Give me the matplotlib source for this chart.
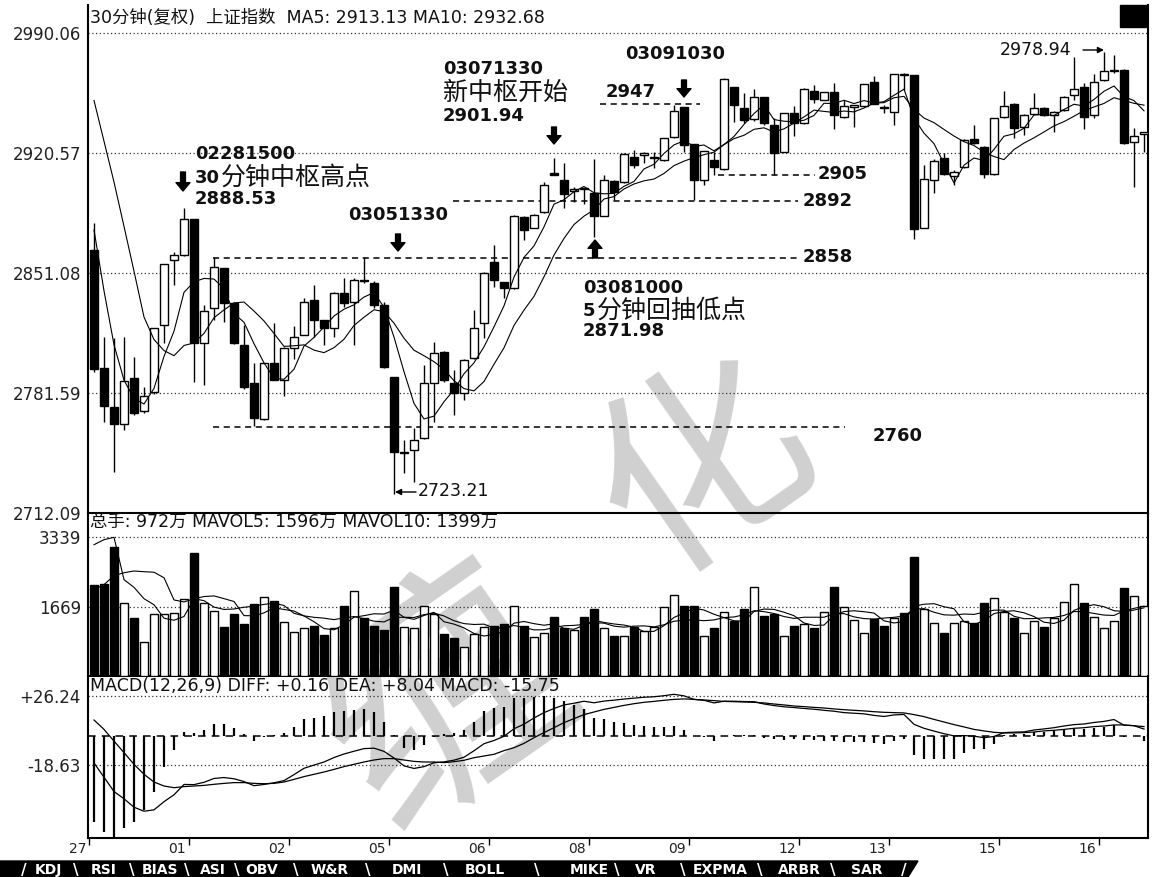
import numpy as np
import pandas as pd
import matplotlib
matplotlib.use("Agg")
import matplotlib.pyplot as plt
from matplotlib.patches import Rectangle, Polygon

plt.rcParams['font.family'] = ['DejaVu Sans', 'Noto Sans CJK SC']

# ---- 30 minute bars ----
opens = [2864.4, 2796.1, 2773.5, 2763.7, 2790.3, 2771.2, 2782.2, 2821.0, 2858.6, 2861.5,
         2882.4, 2810.5, 2830.8, 2853.9, 2833.7, 2809.4, 2787.4, 2766.5, 2798.9, 2789.1,
         2807.6, 2815.2, 2835.4, 2823.9, 2819.2, 2839.5, 2834.3, 2846.9, 2845.3, 2832.5,
         2790.9, 2746.6, 2748.6, 2755.5, 2787.4, 2805.3, 2787.4, 2781.6, 2801.9, 2822.1,
         2857.5, 2845.9, 2842.4, 2883.5, 2877.2, 2886.4, 2908.8, 2904.9, 2898.5, 2899.9,
         2897.4, 2884.0, 2904.3, 2903.8, 2918.2, 2919.5, 2917.6, 2916.5, 2929.9, 2947.2,
         2925.8, 2904.9, 2916.5, 2911.3, 2958.8, 2946.6, 2940.3, 2953.0, 2936.8, 2921.2,
         2943.7, 2937.9, 2956.5, 2951.3, 2955.9, 2941.4, 2947.5, 2947.8, 2961.7, 2946.7,
         2944.3, 2966.0, 2965.7, 2877.2, 2904.9, 2917.7, 2907.2, 2912.5, 2928.7, 2924.1,
         2908.4, 2941.4, 2948.9, 2935.6, 2943.2, 2946.6, 2942.6, 2945.5, 2954.2, 2958.8,
         2942.6, 2962.8, 2967.8, 2968.6, 2926.9, 2931.8]
highs = [2880.0, 2814.0, 2813.4, 2814.0, 2802.4, 2785.0, 2819.2, 2856.3, 2863.3, 2888.5,
         2882.4, 2832.5, 2860.4, 2854.0, 2834.3, 2821.0, 2798.9, 2798.9, 2822.0, 2808.0,
         2820.4, 2836.6, 2844.1, 2824.0, 2840.0, 2848.2, 2848.2, 2860.4, 2846.5, 2834.5,
         2791.0, 2754.4, 2761.4, 2797.8, 2811.1, 2806.0, 2794.9, 2801.0, 2829.6, 2851.5,
         2867.3, 2846.0, 2884.5, 2884.0, 2885.0, 2903.8, 2917.7, 2914.8, 2901.0, 2900.5,
         2917.1, 2907.8, 2905.0, 2920.3, 2922.3, 2921.2, 2921.0, 2929.5, 2948.4, 2947.5,
         2926.0, 2922.0, 2921.2, 2964.0, 2959.0, 2955.3, 2957.6, 2953.2, 2940.8, 2944.0,
         2947.8, 2958.0, 2960.0, 2956.2, 2961.1, 2951.3, 2948.0, 2960.8, 2965.2, 2948.4,
         2966.5, 2966.9, 2966.0, 2913.6, 2917.0, 2920.6, 2910.7, 2928.5, 2936.8, 2924.5,
         2941.0, 2956.5, 2949.3, 2943.0, 2955.3, 2947.0, 2945.0, 2953.5, 2976.0, 2961.1,
         2966.3, 2978.9, 2977.3, 2969.0, 2935.0, 2932.5]
lows = [2793.8, 2764.8, 2735.8, 2760.2, 2768.8, 2770.0, 2781.0, 2810.5, 2844.1, 2861.0,
        2788.0, 2786.2, 2823.9, 2822.7, 2810.0, 2784.0, 2762.5, 2766.0, 2789.0, 2779.9,
        2801.3, 2815.0, 2814.0, 2809.4, 2814.0, 2831.4, 2809.4, 2845.3, 2830.8, 2796.0,
        2723.2, 2735.2, 2730.0, 2755.0, 2764.8, 2788.0, 2768.8, 2777.6, 2801.0, 2813.4,
        2843.0, 2836.6, 2842.0, 2870.2, 2877.0, 2886.0, 2907.8, 2888.7, 2892.0, 2891.0,
        2872.0, 2884.0, 2893.3, 2903.0, 2911.9, 2914.8, 2912.0, 2916.0, 2929.5, 2921.2,
        2893.3, 2902.0, 2907.8, 2911.0, 2938.5, 2937.9, 2939.0, 2936.8, 2907.8, 2921.0,
        2930.4, 2937.5, 2949.5, 2951.0, 2934.5, 2941.0, 2935.6, 2947.5, 2948.8, 2943.7,
        2936.8, 2957.0, 2870.8, 2877.0, 2897.4, 2908.0, 2902.0, 2912.0, 2926.0, 2906.0,
        2908.0, 2941.0, 2929.3, 2931.0, 2943.0, 2942.0, 2932.8, 2945.0, 2951.3, 2934.5,
        2940.8, 2962.0, 2967.0, 2926.0, 2900.9, 2921.0]
closes = [2795.5, 2774.0, 2763.7, 2788.5, 2770.0, 2779.9, 2819.2, 2856.3, 2861.5, 2882.4,
          2810.5, 2829.0, 2854.5, 2833.7, 2810.5, 2785.0, 2767.1, 2798.9, 2789.1, 2807.6,
          2814.0, 2834.3, 2823.9, 2819.2, 2839.5, 2833.7, 2847.0, 2846.3, 2832.5, 2796.6,
          2747.4, 2747.0, 2754.4, 2787.4, 2804.8, 2789.1, 2781.6, 2800.7, 2819.2, 2851.1,
          2847.0, 2842.4, 2884.0, 2876.0, 2884.6, 2902.1, 2908.0, 2896.8, 2899.5, 2899.5,
          2884.0, 2904.9, 2898.0, 2920.0, 2913.6, 2920.3, 2918.4, 2929.3, 2944.9, 2925.2,
          2904.9, 2921.7, 2912.5, 2963.4, 2948.4, 2939.7, 2953.0, 2938.0, 2920.6, 2943.7,
          2937.9, 2957.6, 2951.9, 2955.9, 2942.6, 2947.8, 2947.9, 2960.5, 2949.0, 2946.4,
          2966.3, 2965.6, 2876.6, 2905.5, 2916.0, 2908.4, 2909.6, 2928.1, 2926.4, 2908.4,
          2940.8, 2947.8, 2935.1, 2942.6, 2946.6, 2942.6, 2944.3, 2953.0, 2957.6, 2941.4,
          2961.7, 2968.0, 2968.3, 2926.4, 2930.3, 2932.1]
# closes before the first visible bar (estimated from where the MA lines start)
pre_close = [3010, 3000, 3045, 3030, 3045, 2950, 2920, 2891, 2823.5]

volumes = [2193, 2210, 3094, 1760, 1392, 827, 1481, 1481, 1514, 1842,
           2947, 1760, 1555, 1187, 1498, 1252, 1736, 1908, 1801, 1294,
           1064, 1146, 1211, 982, 1146, 1678, 2047, 1392, 1211, 1113,
           2145, 1187, 1146, 1678, 1498, 1007, 901, 696, 1007, 1187,
           1211, 1252, 1687, 1211, 925, 1023, 1417, 1146, 1100, 1417,
           1621, 1146, 966, 966, 1171, 1089, 1171, 1654, 1948, 1687,
           1670, 966, 1146, 1539, 1310, 1621, 2129, 1441, 1498, 966,
           1211, 1252, 1146, 1539, 2137, 1662, 1351, 1031, 1375, 1211,
           1400, 1523, 2866, 1621, 1277, 1031, 1277, 1310, 1277, 1760,
           1867, 1539, 1392, 1031, 1310, 1187, 1392, 1785, 2210, 1760,
           1417, 1146, 1310, 2112, 1932, 1687]
pre_vol = [1000, 950, 1050, 980, 990, 1610, 2804, 6850, 2313]

diff = [-17.5, -26.8, -36.1, -40.8, -46.3, -48.9, -48.0, -42.7, -38.2, -31.5,
        -31.6, -30.1, -27.6, -27.0, -27.8, -29.6, -32.3, -31.5, -30.4, -29.0,
        -25.1, -21.0, -18.9, -16.9, -14.0, -11.7, -9.9, -8.2, -7.9, -10.0,
        -14.3, -19.4, -21.1, -19.9, -17.4, -16.8, -15.7, -13.8, -9.6, -5.0,
        -2.9, -0.2, 4.7, 7.7, 11.7, 15.2, 17.9, 20.2, 21.3, 22.6,
        21.6, 22.7, 23.3, 24.0, 24.6, 25.2, 25.5, 26.2, 27.1, 26.1,
        23.8, 23.2, 21.5, 22.6, 22.6, 22.4, 22.3, 20.8, 19.8, 19.0,
        18.5, 17.9, 17.4, 16.7, 16.1, 15.2, 14.8, 14.4, 13.4, 12.7,
        13.7, 14.0, 7.6, 5.0, 3.2, 1.5, 0.1, 0.3, -0.1, -1.1,
        -0.3, 2.2, 2.5, 2.7, 3.9, 4.6, 5.4, 6.5, 7.4, 7.8,
        8.8, 9.5, 10.7, 7.0, 6.7, 4.5]
dea = [10.4, 4.3, -3.3, -10.8, -18.4, -24.9, -29.9, -32.5, -33.6, -32.9,
       -32.5, -32.1, -31.4, -30.8, -30.3, -30.3, -30.8, -31.0, -30.8, -29.9,
       -28.2, -26.4, -24.9, -23.4, -21.7, -19.9, -18.4, -16.9, -15.6, -14.7,
       -14.7, -15.6, -16.5, -16.9, -16.9, -17.3, -16.7, -15.8, -14.1, -13.0,
       -11.9, -9.5, -7.6, -4.8, -1.1, 2.2, 5.4, 8.7, 11.3, 13.9,
       15.6, 17.3, 18.6, 19.9, 21.0, 21.9, 22.5, 23.2, 23.8, 24.1,
       23.8, 23.4, 23.0, 22.5, 22.3, 22.1, 21.9, 21.5, 20.8, 20.2,
       19.5, 19.1, 18.6, 18.2, 17.6, 17.1, 16.7, 16.3, 15.8, 15.4,
       15.2, 15.0, 13.9, 12.6, 10.8, 9.1, 7.4, 5.9, 4.3, 3.3,
       2.4, 2.0, 2.0, 2.2, 2.6, 3.3, 3.7, 4.3, 5.0, 5.4,
       6.1, 6.5, 7.2, 7.2, 6.7, 6.1]
macd = [-55.7, -62.2, -65.5, -60.0, -55.7, -48.1, -36.2, -20.4, -9.1, 2.8,
        1.7, 3.9, 7.6, 7.6, 5.0, 1.3, -3.0, -0.9, 0.7, 1.7,
        6.1, 10.8, 11.9, 13.0, 15.4, 16.3, 16.9, 17.3, 15.4, 9.3,
        0.7, -7.6, -9.1, -5.9, -0.9, 1.0, 2.0, 4.0, 9.0, 16.0,
        18.0, 18.6, 24.5, 25.0, 25.6, 26.0, 25.0, 23.0, 20.0, 17.3,
        12.0, 10.8, 9.3, 8.2, 7.2, 6.5, 6.0, 6.0, 6.5, 4.0,
        0.2, -0.5, -3.0, 0.2, 0.5, 0.5, 0.8, -1.5, -2.0, -2.5,
        -2.0, -2.5, -2.5, -3.0, -3.0, -3.9, -3.9, -3.9, -4.8, -5.4,
        -3.0, -2.0, -12.6, -15.2, -15.2, -15.2, -14.7, -11.3, -8.7, -8.7,
        -5.4, 0.4, 1.0, 1.0, 2.6, 2.6, 3.3, 4.3, 4.8, 4.8,
        5.4, 6.0, 6.9, -0.4, 0.2, -3.3]

day_labels = ['27', '01', '02', '05', '06', '08', '09', '12', '13', '15', '16']
day_start = [0, 10, 20, 30, 40, 50, 60, 71, 80, 91, 101]
price_ticks = [2990.06, 2920.57, 2851.08, 2781.59, 2712.09]
vol_ticks = [3339, 1669]
macd_ticks = [26.24, -18.63]

# ---- figure in pixel layout ----
W, H = 1156, 877
fig = plt.figure(figsize=(W / 100, H / 100), dpi=100)
fig.patch.set_facecolor('white')


def box(l, t, r, b):
    return [l / W, 1 - b / H, (r - l) / W, (b - t) / H]


def ftext(x, y, s, **kw):
    kw.setdefault('va', 'center')
    kw.setdefault('color', '#111111')
    fig.text(x / W, 1 - y / H, s, **kw)


ax1 = fig.add_axes(box(88, 5, 1148, 513))
ax2 = fig.add_axes(box(88, 513, 1148, 676))
ax3 = fig.add_axes(box(88, 676, 1148, 838))

for ax in (ax1, ax2, ax3):
    ax.set_facecolor('none')
    ax.set_xlim(-0.6, 105.4)
    ax.spines['top'].set_visible(False)
    for s in ('left', 'right', 'bottom'):
        ax.spines[s].set_linewidth(1.5)
    ax.tick_params(axis='y', length=0, pad=5, labelsize=12, labelcolor='#222222')
    ax.tick_params(axis='x', bottom=False, labelbottom=False)

dot = (0, (1, 2))

# price panel
o = np.array(opens)
h = np.array(highs)
l = np.array(lows)
c = np.array(closes)
x = np.arange(len(c))
down = c < o
fill = np.where(down, 'black', 'white')

ax1.set_ylim(2712.09, 3006.3)
ax1.set_yticks(price_ticks)
ax1.set_yticklabels(['%.2f' % v for v in price_ticks])
for v in price_ticks[:-1]:
    ax1.axhline(v, color='#333333', lw=0.9, linestyle=dot, zorder=1)

ax1.vlines(x, l, h, color='black', lw=1, zorder=2)
ax1.bar(x, np.maximum(np.abs(c - o), 0.7), bottom=np.minimum(o, c), width=0.75,
        color=fill, edgecolor='black', linewidth=1, zorder=3)

cl = pd.Series(pre_close + closes)
n0 = len(pre_close)
ma5 = cl.rolling(5).mean().to_numpy()[n0:]
ma10 = cl.rolling(10).mean().to_numpy()[n0:]
ax1.plot(x, ma5, color='black', lw=0.8, zorder=4)
ax1.plot(x, ma10, color='black', lw=0.8, zorder=4)

# dashed reference levels
dash = (0, (4, 3))
ax1.hlines(2859.8, 11.9, 70.4, color='black', lw=1.1, linestyle=dash)
ax1.hlines(2892.8, 35.9, 70.4, color='black', lw=1.1, linestyle=dash)
ax1.hlines(2908.0, 62.4, 72.1, color='black', lw=1.1, linestyle=dash)
ax1.hlines(2762.0, 11.9, 75.1, color='black', lw=1.1, linestyle=dash)
ax1.hlines(2948.9, 50.6, 60.6, color='black', lw=1.1, linestyle=dash)

bold = dict(fontsize=13, fontweight='bold', family='DejaVu Sans')
cjk = dict(fontsize=18, family=['Noto Sans CJK SC'])
ftext(803, 257, '2858', **bold)
ftext(803, 201, '2892', **bold)
ftext(818, 174, '2905', **bold)
ftext(873, 436, '2760', **bold)

ftext(195, 154, '02281500', **bold)
ftext(195, 178, '30', **bold)
ftext(221, 178, '分钟中枢高点', **cjk)
ftext(195, 199, '2888.53', **bold)

ftext(348, 215, '03051330', **bold)

ftext(443, 69, '03071330', **bold)
ftext(443, 93, '新中枢开始', **cjk)
ftext(443, 116, '2901.94', **bold)

ftext(625, 54, '03091030', **bold)
ftext(606, 92, '2947', **bold)

ftext(583, 288, '03081000', **bold)
ftext(583, 311, '5', **bold)
ftext(597, 311, '分钟回抽低点', **cjk)
ftext(583, 331, '2871.98', **bold)

ftext(418, 491, '2723.21', fontsize=12.5)
ftext(1000, 50, '2978.94', fontsize=12.5)


def block_arrow(px, y_tail, y_tip):
    ax1.annotate('', xy=(px, H - y_tip), xycoords='figure pixels',
                 xytext=(px, H - y_tail), textcoords='figure pixels',
                 arrowprops=dict(facecolor='black', edgecolor='black', width=3.5,
                                 headwidth=10, headlength=6, shrink=0),
                 annotation_clip=False)


block_arrow(183, 172, 191)
block_arrow(398, 234, 251)
block_arrow(554, 127, 144)
block_arrow(684, 80, 97)
block_arrow(595, 258, 240)

thin = dict(arrowstyle='-|>', color='black', lw=1, mutation_scale=9, shrinkA=0, shrinkB=0)
ax1.annotate('', xy=(395, H - 492), xycoords='figure pixels', xytext=(416, H - 492),
             textcoords='figure pixels', arrowprops=thin, annotation_clip=False)
ax1.annotate('', xy=(1104, H - 50), xycoords='figure pixels', xytext=(1083, H - 50),
             textcoords='figure pixels', arrowprops=thin, annotation_clip=False)

# volume panel
ax2.set_ylim(0, 3915)
ax2.set_yticks(vol_ticks)
ax2.set_yticklabels([str(v) for v in vol_ticks])
for v in vol_ticks:
    ax2.axhline(v, color='#333333', lw=0.9, linestyle=dot, zorder=1)
ax2.bar(x, volumes, width=0.75, color=fill, edgecolor='black', linewidth=1, zorder=3)
vs = pd.Series(pre_vol + volumes)
m0 = len(pre_vol)
ax2.plot(x, vs.rolling(5).mean().to_numpy()[m0:], color='black', lw=0.8, zorder=4)
ax2.plot(x, vs.rolling(10).mean().to_numpy()[m0:], color='black', lw=0.8, zorder=4)

# macd panel
ax3.set_ylim(-66.3, 39.0)
ax3.set_yticks(macd_ticks)
ax3.set_yticklabels(['%+.2f' % v for v in macd_ticks])
for v in macd_ticks:
    ax3.axhline(v, color='#333333', lw=0.9, linestyle=dot, zorder=1)
ax3.axhline(0, color='black', lw=1.1, linestyle=(0, (5, 4)), zorder=1)
ax3.vlines(x, 0, macd, color='black', lw=1.6, zorder=2)
ax3.plot(x, diff, color='black', lw=0.9, zorder=3)
ax3.plot(x, dea, color='black', lw=0.9, zorder=3)

ax3.set_xticks([s - 0.5 for s in day_start])
ax3.tick_params(axis='x', bottom=True, length=5, width=1, direction='out', labelbottom=False)
for s, lab in zip(day_start, day_labels):
    ftext(94 + 10 * (s - 0.5) - 3, 849, lab, ha='right', fontsize=10, color='#222222')

# panel headers
ftext(90, 18, '30分钟(复权)  上证指数  MA5: 2913.13 MA10: 2932.68', fontsize=12.5)
ftext(90, 522, '总手: 972万 MAVOL5: 1596万 MAVOL10: 1399万', fontsize=12.5)
ftext(90, 686, 'MACD(12,26,9) DIFF: +0.16 DEA: +8.04 MACD: -15.75', fontsize=12.5)

# black square top right
fig.add_artist(Rectangle((1120 / W, 1 - 27 / H), 27 / W, 22 / H,
                         transform=fig.transFigure, color='black'))

# bottom tab strip
tab = [(0, 861), (918, 861), (908, 877), (0, 877)]
fig.add_artist(Polygon([(a / W, 1 - b / H) for a, b in tab], closed=True,
                       transform=fig.transFigure, color='black'))
tabs = ['KDJ', 'RSI', 'BIAS', 'ASI', 'OBV', 'W&R', 'DMI', 'BOLL', 'MIKE', 'VR', 'EXPMA', 'ARBR', 'SAR']
tab_x = [48, 104, 160, 213, 262, 330, 407, 485, 589, 646, 720, 799, 867]
sep_x = [24, 76, 132, 187, 237, 296, 368, 446, 537, 617, 683, 760, 833]
for t, tx in zip(tabs, tab_x):
    ftext(tx, 870, t, ha='center', fontsize=10, fontweight='bold', color='white')
for sx in sep_x:
    ftext(sx, 870, '\\' if sx > 30 else '/', ha='center', fontsize=11, fontweight='bold', color='white')
ftext(904, 870, '/', ha='center', fontsize=11, fontweight='bold', color='white')

# faint watermark behind the panels
fig.text(450 / W, 1 - 705 / H, '缠', fontsize=175, family=['Noto Sans CJK SC'],
         color='#d0d0d0', rotation=35, ha='center', va='center', zorder=-1)
fig.text(705 / W, 1 - 470 / H, '化', fontsize=150, family=['Noto Sans CJK SC'],
         color='#d0d0d0', rotation=35, ha='center', va='center', zorder=-1)

fig.savefig('out.png', dpi=100, facecolor='white')
